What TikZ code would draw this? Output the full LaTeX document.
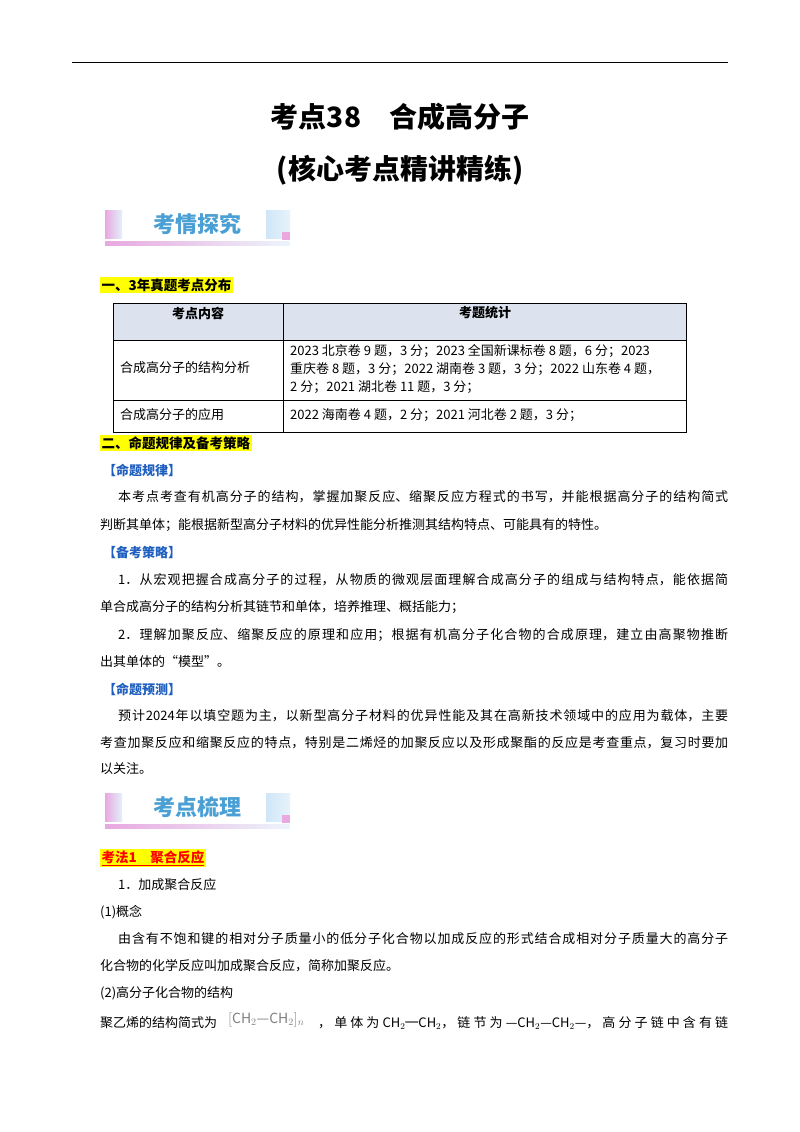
\documentclass[tikz,border=0pt]{standalone}
\usepackage{fontspec}
\setmainfont{Noto Sans CJK SC}
\XeTeXlinebreaklocale "zh"
\XeTeXlinebreakskip=0pt plus 4pt
\newcommand{\jl}[2]{\parbox{#1}{\fontsize{13}{15}\selectfont\parfillskip=0pt\noindent #2}}
\definecolor{hl}{HTML}{FFFF00}
\definecolor{hdr}{HTML}{DCE3EF}
\definecolor{bl}{HTML}{1F5FBF}
\definecolor{bnr}{HTML}{4A9FD4}
\definecolor{pk}{HTML}{E9A8E0}
\definecolor{lb}{HTML}{CFE6F7}
\tikzset{
 tx/.style={anchor=west,inner sep=0pt,font=\fontsize{13}{15}\selectfont},
 hlt/.style={anchor=west,fill=hl,inner sep=1.5pt,font=\bfseries\fontsize{13.5}{15}\selectfont},
 sec/.style={anchor=west,inner sep=0pt,text=bl,font=\bfseries\fontsize{13}{15}\selectfont},
 cell/.style={anchor=west,inner sep=0pt,font=\fontsize{13}{15}\selectfont},
 bantext/.style={inner sep=0pt,text=bnr,font=\bfseries\fontsize{22}{24}\selectfont}
}
\newcommand{\banner}[2]{%
 \shade[left color=pk,right color=lb!60] (105,#1) rectangle (122,#1+28);
 \shade[left color=lb,right color=lb!50] (266,#1) rectangle (290,#1+28);
 \fill[pk] (282,#1+22) rectangle (290,#1+30);
 \shade[left color=pk,right color=lb!40] (105,#1+31) rectangle (290,#1+35);
 \node[bantext] at (197,#1+14) {#2};}
\begin{document}
\begin{tikzpicture}[x=1pt,y=-1pt]
\useasboundingbox (0,0) rectangle (800,1132);
\draw[line width=1pt] (72,63) -- (728,63);
\node[font=\bfseries\fontsize{28}{30}\selectfont] (t1) at (400,117) {考点38\quad 合成高分子};
\node[font=\bfseries\fontsize{28}{30}\selectfont] (t2) at (400,170) {(核心考点精讲精练)};
\banner{210}{考情探究}
\node[hlt] (h1) at (100,285) {一、3年真题考点分布};
% table
\fill[hdr] (113,303) rectangle (686,340);
\draw[line width=0.8pt] (113,303) rectangle (686,432);
\draw (113,340) -- (686,340) (113,400) -- (686,400) (283,303) -- (283,432);
\node[font=\bfseries\fontsize{13}{15}\selectfont] at (198,313) {考点内容};
\node[font=\bfseries\fontsize{13}{15}\selectfont] at (485,313) {考题统计};
\node[cell] at (120,368) {合成高分子的结构分析};
\node[cell] at (290,351) {2023 北京卷 9 题，3 分；2023 全国新课标卷 8 题，6 分；2023};
\node[cell] at (290,369) {重庆卷 8 题，3 分；2022 湖南卷 3 题，3 分；2022 山东卷 4 题，};
\node[cell] at (290,387) {2 分；2021 湖北卷 11 题，3 分；};
\node[cell] at (120,415) {合成高分子的应用};
\node[cell] at (290,415) {2022 海南卷 4 题，2 分；2021 河北卷 2 题，3 分；};
\node[hlt] (h2) at (100,443) {二、命题规律及备考策略};
\node[sec] at (103,470) {【命题规律】};
\node[tx] at (118,497) {\jl{610pt}{本考点考查有机高分子的结构，掌握加聚反应、缩聚反应方程式的书写，并能根据高分子的结构简式}};
\node[tx] at (100,525) {判断其单体；能根据新型高分子材料的优异性能分析推测其结构特点、可能具有的特性。};
\node[sec] at (103,553) {【备考策略】};
\node[tx] at (118,580) {\jl{610pt}{1．从宏观把握合成高分子的过程，从物质的微观层面理解合成高分子的组成与结构特点，能依据简}};
\node[tx] at (100,607) {单合成高分子的结构分析其链节和单体，培养推理、概括能力；};
\node[tx] at (118,635) {\jl{610pt}{2．理解加聚反应、缩聚反应的原理和应用；根据有机高分子化合物的合成原理，建立由高聚物推断}};
\node[tx] at (100,662) {出其单体的“模型”。};
\node[sec] at (103,689) {【命题预测】};
\node[tx] at (118,716) {\jl{610pt}{预计2024年以填空题为主，以新型高分子材料的优异性能及其在高新技术领域中的应用为载体，主要}};
\node[tx] at (100,743) {\jl{628pt}{考查加聚反应和缩聚反应的特点，特别是二烯烃的加聚反应以及形成聚酯的反应是考查重点，复习时要加}};
\node[tx] at (100,769) {以关注。};
\banner{793}{考点梳理}
\node[hlt,text=red] (k1) at (100,858) {\underline{考法1\quad 聚合反应}};
\node[tx] at (118,885) {1．加成聚合反应};
\node[tx] at (100,912) {(1)概念};
\node[tx] at (118,939) {\jl{610pt}{由含有不饱和键的相对分子质量小的低分子化合物以加成反应的形式结合成相对分子质量大的高分子}};
\node[tx] at (100,966) {化合物的化学反应叫加成聚合反应，简称加聚反应。};
\node[tx] at (100,993) {(2)高分子化合物的结构};
\node[tx] (p1) at (100,1023) {聚乙烯的结构简式为};
\node[anchor=west,inner sep=0pt,text=gray,font=\fontsize{14}{15}\selectfont] (f) at (228,1020) {$\lbrack$CH$_2$—CH$_2$$\rbrack_n$};
\node[tx] at (318,1023) {\jl{410pt}{，单体为CH$_2$═CH$_2$，链节为—CH$_2$—CH$_2$—，高分子链中含有链}};
\end{tikzpicture}
\end{document}
